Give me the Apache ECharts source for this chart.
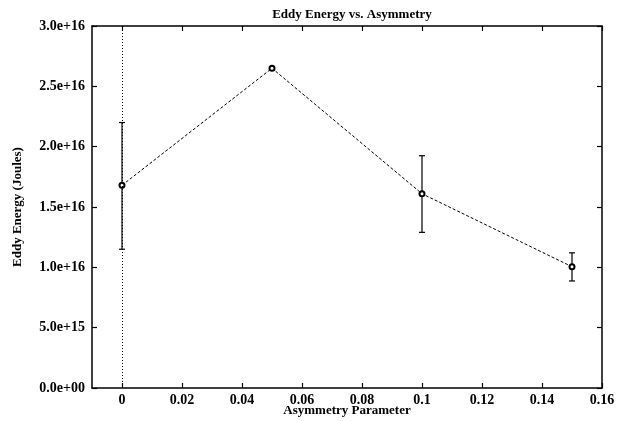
<!DOCTYPE html>
<html>
<head>
<meta charset="utf-8">
<script src="https://cdn.jsdelivr.net/npm/echarts@6/dist/echarts.min.js"></script>
<style>
  html, body { margin: 0; padding: 0; background: #fff; }
  #chart { width: 625px; height: 421px; }
</style>
</head>
<body>
<div id="chart"></div>
<script>
// Asymmetry parameter values and the measured eddy energy at each
const asymmetry = [0, 0.05, 0.1, 0.15];
const energy = [1.68e16, 2.65e16, 1.61e16, 1.005e16];
const errLow = [1.15e16, 2.65e16, 1.29e16, 0.887e16];
const errHigh = [2.2e16, 2.65e16, 1.925e16, 1.12e16];
const xTicks = [0, 0.02, 0.04, 0.06, 0.08, 0.1, 0.12, 0.14, 0.16];

const FONT = '"Liberation Serif", "DejaVu Serif", serif';

function expLabel(v) {
  if (v === 0) return '0.0e+00';
  const e = Math.floor(Math.log10(Math.abs(v)) + 1e-9);
  const m = v / Math.pow(10, e);
  return m.toFixed(1) + 'e+' + (e < 10 ? '0' + e : e);
}

const chart = echarts.init(document.getElementById('chart'), null, { renderer: 'canvas' });

const errData = asymmetry.map((x, i) => [x, errLow[i], errHigh[i]]);
const lineData = asymmetry.map((x, i) => [x, energy[i]]);

const tickStyle = { lineStyle: { color: '#000', width: 1.2 } };
const labelFont = { fontFamily: FONT, fontSize: 14, fontWeight: 'bold', color: '#000' };
const nameFont = { fontFamily: FONT, fontSize: 13, fontWeight: 'bold', color: '#000' };
const frameLine = { show: true, onZero: false, lineStyle: { color: '#000', width: 1.5 } };

chart.setOption({
  animation: false,
  backgroundColor: '#fff',
  title: {
    text: 'Eddy Energy vs. Asymmetry',
    left: 347, top: 3, textAlign: 'center',
    textStyle: nameFont
  },
  grid: { left: 92, right: 23, top: 26, bottom: 33, outerBoundsMode: 'none', containLabel: false },
  xAxis: [{
    type: 'value', min: -0.01, max: 0.16,
    name: 'Asymmetry Parameter', nameLocation: 'middle', nameGap: 16,
    nameMoveOverlap: false,
    nameTextStyle: nameFont,
    axisLine: frameLine,
    axisTick: { show: true, inside: true, length: 5, customValues: xTicks, ...tickStyle },
    axisLabel: {
      customValues: xTicks, margin: 5,
      formatter: v => String(parseFloat(v.toFixed(2))),
      ...labelFont
    },
    splitLine: { show: false }
  }, {
    type: 'value', min: -0.01, max: 0.16, position: 'top',
    axisLine: frameLine,
    axisTick: { show: true, inside: true, length: 5, customValues: xTicks, ...tickStyle },
    axisLabel: { show: false },
    splitLine: { show: false }
  }],
  yAxis: [{
    type: 'value', min: 0, max: 3e16, interval: 5e15,
    name: 'Eddy Energy (Joules)', nameLocation: 'middle', nameGap: 68,
    nameMoveOverlap: false,
    nameTextStyle: nameFont,
    axisLine: frameLine,
    axisTick: { show: true, inside: true, length: 5, ...tickStyle },
    axisLabel: { formatter: expLabel, margin: 7, ...labelFont },
    splitLine: { show: false }
  }, {
    type: 'value', min: 0, max: 3e16, interval: 5e15, position: 'right',
    axisLine: frameLine,
    axisTick: { show: true, inside: true, length: 5, ...tickStyle },
    axisLabel: { show: false },
    splitLine: { show: false }
  }],
  series: [{
    type: 'line',
    data: lineData,
    symbol: 'emptyCircle', symbolSize: 5,
    lineStyle: { color: '#000', width: 1, type: [3, 2] },
    itemStyle: { color: '#000', borderColor: '#000', borderWidth: 1.2 },
    markLine: {
      silent: true, symbol: 'none', label: { show: false },
      lineStyle: { color: '#000', width: 1, type: [1, 2] },
      data: [{ xAxis: 0 }]
    },
    z: 3
  }, {
    type: 'custom',
    data: errData,
    renderItem: function (params, api) {
      const x = api.value(0);
      const lo = api.coord([x, api.value(1)]);
      const hi = api.coord([x, api.value(2)]);
      if (Math.abs(hi[1] - lo[1]) < 1) return null;
      const cap = 3;
      const style = { stroke: '#000', lineWidth: 1.2 };
      return {
        type: 'group',
        children: [
          { type: 'line', shape: { x1: lo[0], y1: lo[1], x2: hi[0], y2: hi[1] }, style },
          { type: 'line', shape: { x1: lo[0] - cap, y1: lo[1], x2: lo[0] + cap, y2: lo[1] }, style },
          { type: 'line', shape: { x1: hi[0] - cap, y1: hi[1], x2: hi[0] + cap, y2: hi[1] }, style }
        ]
      };
    },
    z: 2
  }]
});
</script>
</body>
</html>
